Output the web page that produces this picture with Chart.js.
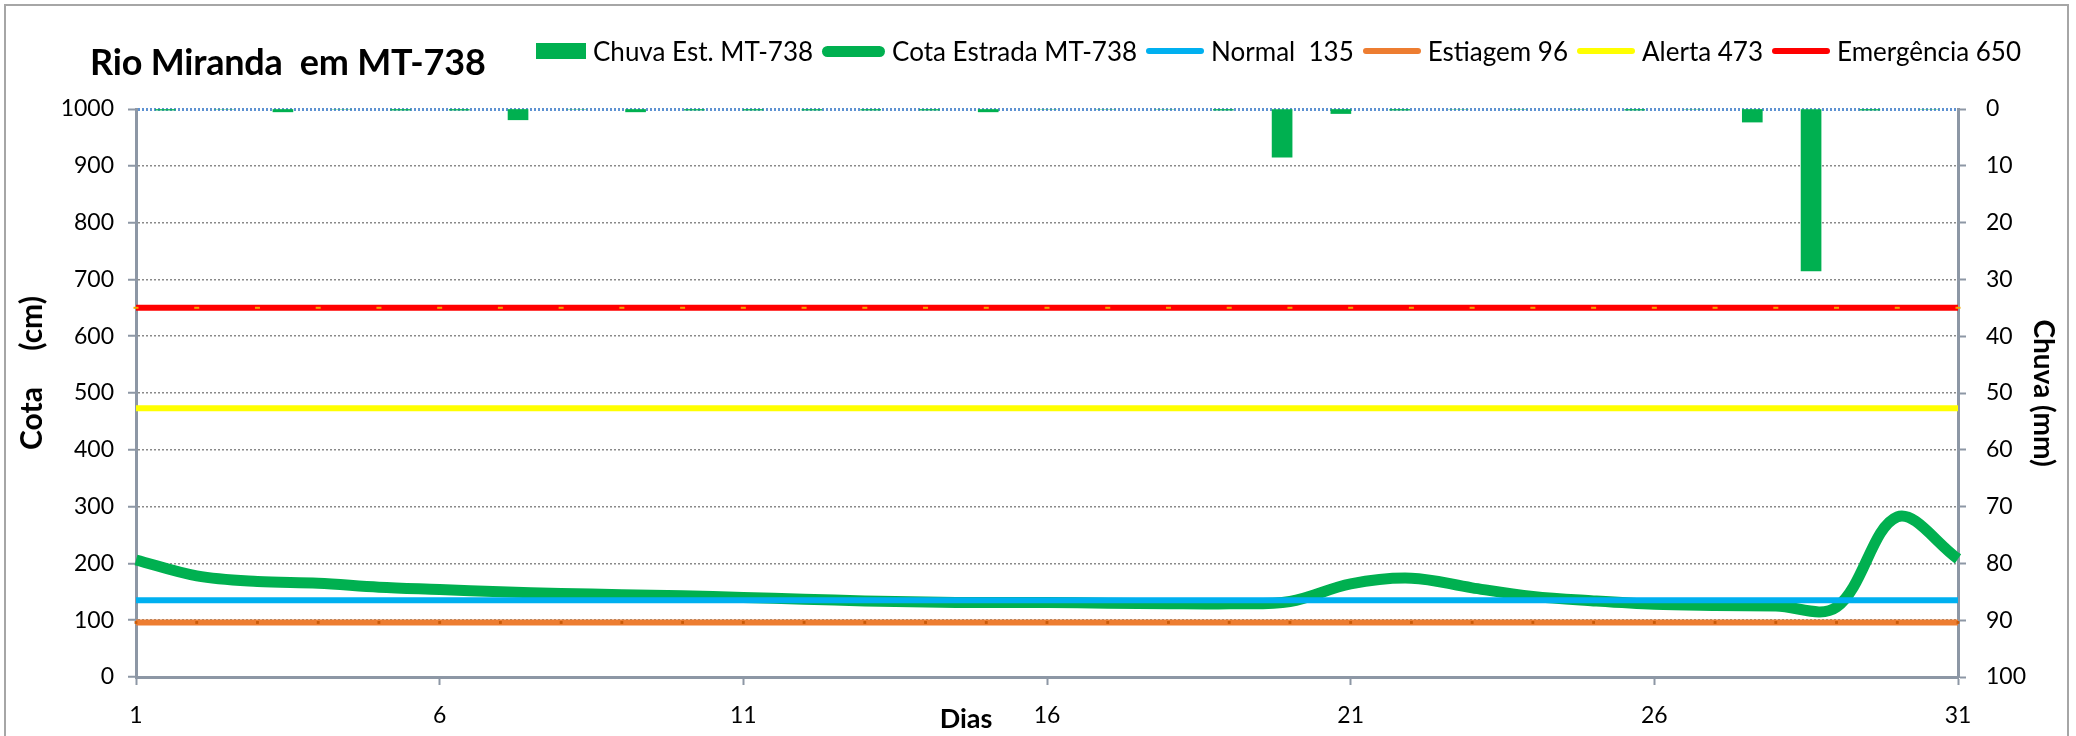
<!DOCTYPE html>
<html lang="pt-BR">
<head>
<meta charset="utf-8">
<title>Rio Miranda em MT-738</title>
<script src="https://cdn.jsdelivr.net/npm/chart.js@4.4.1/dist/chart.umd.min.js"></script>
<style>
  html, body { margin: 0; padding: 0; background: #fff; overflow: hidden; }
  #wrap { position: relative; width: 2076px; height: 736px; font-family: Lato, 'Open Sans', sans-serif; color: #000; }
  #chart { position: absolute; left: 0; top: 0; }
  .frame { position: absolute; left: 4px; top: 4px; width: 2061px; height: 800px; border: 2px solid #a6a6a6; pointer-events: none; }
  .title { position: absolute; left: 90px; top: 43px; font-size: 36px; font-weight: 700; line-height: 1; white-space: pre; letter-spacing: -0.2px; }
  .legend { position: absolute; left: 536px; top: 38px; height: 26px; display: flex; align-items: center; font-size: 26px; line-height: 1; white-space: pre; }
  .legend .item { display: flex; align-items: center; margin-right: 9px; }
  .legend .swatch { margin-right: 7px; }
  .x-title { position: absolute; left: 966px; top: 704px; transform: translateX(-50%); font-size: 27px; font-weight: 700; line-height: 1; }
  .y-title { position: absolute; left: 30px; top: 373px; transform: translate(-50%, -50%) rotate(-90deg); font-size: 30px; font-weight: 700; line-height: 1; white-space: pre; }
</style>
</head>
<body>
<div id="wrap">
  <canvas id="chart" width="2076" height="736"></canvas>
  <div class="title">Rio Miranda  em MT-738</div>
  <div class="legend" id="legend"></div>
  <div class="y-title">Cota     (cm)</div>
  <div class="x-title">Dias</div>
  <div class="frame"></div>
</div>
<script>
// ─── Data ───────────────────────────────────────────────────

const DAYS = [1, 2, 3, 4, 5, 6, 7, 8, 9, 10, 11, 12, 13, 14, 15, 16,
  17, 18, 19, 20, 21, 22, 23, 24, 25, 26, 27, 28, 29, 30, 31];

// daily rain at the MT-738 station (mm)
const CHUVA_MM = [0.2, 0, 0.5, 0, 0.2, 0.2, 1.9, 0, 0.5, 0.2, 0.2, 0.2, 0.2, 0.2, 0.5, 0,
  0, 0, 0.2, 8.5, 0.8, 0.2, 0, 0, 0, 0.2, 0, 2.3, 28.5, 0.2, 0];

// river level at the road (cm)
const COTA_CM = [206, 178, 168, 165, 158, 154, 150, 147, 145, 143, 140, 137, 134, 132, 131, 131,
  130, 129, 129, 133, 164, 174, 157, 142, 134, 128, 126, 125, 123, 282, 208];

// reference levels (cm)
const NIVEL_NORMAL = 135;
const NIVEL_ESTIAGEM = 96;
const NIVEL_ALERTA = 473;
const NIVEL_EMERGENCIA = 650;

const DAY_LABEL_STEP = 5;

// ─── Styles ─────────────────────────────────────────────────

const GREEN = '#00b050';
const CYAN = '#00b0f0';
const ORANGE = '#ed7d31';
const YELLOW = '#ffff00';
const RED = '#ff0000';
const AXIS_GRAY = '#8d97a5';
const GRID_GRAY = '#8a8a8a';
const TOP_LINE = '#5f92d2';

// ─── Datasets ───────────────────────────────────────────────

function levelLine(label, value, color, order, marker) {
  return {
    type: 'line',
    label,
    data: DAYS.map(() => value),
    borderColor: color,
    backgroundColor: color,
    borderWidth: 6,
    tension: 0,
    order,
    pointRadius: marker ? marker.radius : 0,
    pointStyle: marker ? marker.style : 'circle',
    pointBackgroundColor: marker ? marker.color : color,
    pointBorderColor: marker ? marker.color : color,
    pointBorderWidth: marker ? marker.width : 0,
  };
}

function buildDatasets() {
  return [
    {
      type: 'bar',
      label: 'Chuva Est. MT-738',
      data: CHUVA_MM,
      xAxisID: 'x2',
      yAxisID: 'y2',
      backgroundColor: GREEN,
      borderWidth: 0,
      grouped: false,
      barThickness: 20,
      order: 6,
    },
    {
      type: 'line',
      label: 'Cota Estrada MT-738',
      data: COTA_CM,
      borderColor: GREEN,
      backgroundColor: GREEN,
      borderWidth: 11,
      tension: 0.35,
      pointRadius: 0,
      order: 5,
    },
    levelLine('Normal  135', NIVEL_NORMAL, CYAN, 4, null),
    levelLine('Estiagem 96', NIVEL_ESTIAGEM, ORANGE, 3, { style: 'rect', radius: 2, color: '#c95a08', width: 0 }),
    levelLine('Alerta 473', NIVEL_ALERTA, YELLOW, 2, null),
    levelLine('Emergência 650', NIVEL_EMERGENCIA, RED, 1, { style: 'line', radius: 2.5, color: '#f2a900', width: 2 }),
  ];
}

// ─── Legend ─────────────────────────────────────────────────

function renderLegend(datasets) {
  const box = document.getElementById('legend');
  datasets.forEach(ds => {
    const item = document.createElement('div');
    item.className = 'item';
    const sw = document.createElement('span');
    sw.className = 'swatch';
    if (ds.type === 'bar') {
      sw.style.cssText = `display:inline-block;width:50px;height:16px;background:${ds.backgroundColor}`;
    } else {
      const thick = ds.borderWidth > 6;
      const h = thick ? 11 : 6;
      const w = thick ? 63 : 58;
      sw.style.cssText = `display:inline-block;width:${w}px;height:${h}px;border-radius:${h / 2}px;background:${ds.borderColor}`;
    }
    const txt = document.createElement('span');
    txt.textContent = ds.label;
    item.appendChild(sw);
    item.appendChild(txt);
    box.appendChild(item);
  });
}

// ─── Chart ──────────────────────────────────────────────────

function renderChart(datasets) {
  Chart.defaults.font.family = 'Lato, "Open Sans", sans-serif';
  Chart.defaults.color = '#000';

  const tickFont = { size: 23 };
  const plain = v => String(v);

  new Chart(document.getElementById('chart'), {
    type: 'line',
    data: { labels: DAYS, datasets },
    options: {
      responsive: false,
      animation: false,
      events: [],
      layout: { padding: { top: 109, left: 0, right: 0, bottom: 0 } },
      plugins: {
        legend: { display: false },
        tooltip: { enabled: false },
      },
      scales: {
        x: {
          type: 'category',
          offset: false,
          grid: {
            offset: false,
            drawOnChartArea: false,
            tickLength: 8,
            tickWidth: 2,
            tickColor: ctx => (ctx.index % DAY_LABEL_STEP === 0 ? AXIS_GRAY : 'transparent'),
          },
          border: { color: AXIS_GRAY, width: 3 },
          ticks: {
            autoSkip: false,
            maxRotation: 0,
            padding: 17,
            font: tickFont,
            callback: (v, i) => (i % DAY_LABEL_STEP === 0 ? String(DAYS[i]) : ''),
          },
          afterFit: s => { s.height = 59; },
        },
        x2: {
          type: 'category',
          offset: true,
          display: false,
        },
        y: {
          position: 'left',
          min: 0,
          max: 1000,
          ticks: { stepSize: 100, padding: 14, font: tickFont, callback: plain },
          grid: {
            color: ctx => (ctx.tick && ctx.tick.value === 1000 ? TOP_LINE : GRID_GRAY),
            lineWidth: ctx => (ctx.tick && ctx.tick.value === 1000 ? 3 : 1.5),
            tickColor: AXIS_GRAY,
            tickWidth: 2,
            tickLength: 8,
          },
          border: { color: AXIS_GRAY, width: 3, dash: [2, 2] },
          afterFit: s => { s.width = 136; },
        },
        y2: {
          position: 'right',
          reverse: true,
          min: 0,
          max: 100,
          ticks: { stepSize: 10, padding: 20, font: tickFont, callback: plain },
          grid: {
            drawOnChartArea: false,
            tickColor: AXIS_GRAY,
            tickWidth: 2,
            tickLength: 8,
          },
          border: { color: AXIS_GRAY, width: 3 },
          title: {
            display: true,
            text: 'Chuva (mm)',
            font: { size: 28, weight: 'bold' },
            padding: { top: 16, bottom: 0 },
          },
          afterFit: s => { s.width = 118; },
        },
      },
    },
  });
}

// ─── Init ───────────────────────────────────────────────────

function init() {
  const datasets = buildDatasets();
  renderLegend(datasets);
  renderChart(datasets);
}

Promise.all([
  document.fonts.load('23px Lato'),
  document.fonts.load('bold 30px Lato'),
]).catch(() => null).then(init);
</script>
</body>
</html>
